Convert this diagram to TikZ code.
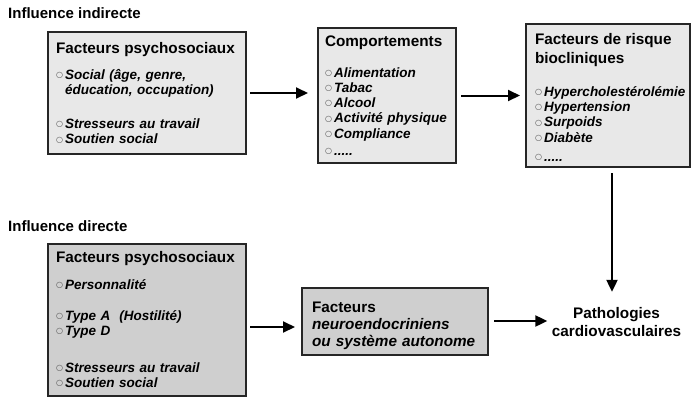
\documentclass[tikz,border=0pt]{standalone}
\usepackage{fontspec}
\setmainfont{Liberation Sans}
\newfontfamily\symfont{DejaVu Sans}
\usetikzlibrary{arrows.meta, positioning}
\definecolor{lightbox}{HTML}{E8E8E8}
\definecolor{darkbox}{HTML}{CFCFCF}
\newcommand{\hd}{\upshape\fontsize{15.3}{17.5}\selectfont}
\newcommand{\itm}{{\symfont\fontsize{8}{8}\selectfont\color{black!70}\raisebox{1.8pt}{○}}\,}
\tikzstyle{grouplabel} = [anchor=base west, inner sep=0pt, font=\fontsize{15}{17}\selectfont\bfseries]
\tikzstyle{factorbox} = [rectangle, draw=black!85, line width=2pt, inner xsep=8pt, inner ysep=0pt, align=left, font=\fontsize{13.5}{15.2}\selectfont\bfseries\itshape]
\tikzstyle{outcome} = [align=center, font=\fontsize{15.3}{18}\selectfont\bfseries]
\tikzstyle{connector} = [line width=2pt, -{Triangle[length=12pt, width=11pt]}]

\begin{document}
\begin{tikzpicture}[x=1pt, y=-1pt]
  \useasboundingbox (0,0) rectangle (691,397);

  % Group titles
  \node (indirect) at (8,18.3) [grouplabel] {Influence indirecte};
  \node (direct) at (8,231) [grouplabel] {Influence directe};

  % Indirect path
  \node (psyA) at (147,93) [factorbox, fill=lightbox, text width=182pt, minimum height=122pt]
    {{\hd Facteurs psychosociaux}\\[11.3pt]
     \itm Social (âge, genre,\\
     \phantom{\itm}éducation, occupation)\\[18.8pt]
     \itm Stresseurs au travail\\
     \itm Soutien social};
  \node (behav) at (387,95.5) [factorbox, fill=lightbox, text width=124pt, inner xsep=7pt, minimum height=135pt]
    {{\hd Comportements}\\[15.8pt]
     \itm Alimentation\\
     \itm Tabac\\
     \itm Alcool\\
     \itm Activité physique\\
     \itm Compliance\\[2pt]
     \itm .....};
  \node (risk) at (608,95.5) [factorbox, fill=lightbox, text width=146pt, inner xsep=9pt, minimum height=143pt]
    {{\hd\rule{0pt}{15pt}Facteurs de risque\\[3pt]biocliniques}\\[18.3pt]
     \itm Hypercholestérolémie\\
     \itm Hypertension\\
     \itm Surpoids\\
     \itm Diabète\\[3.8pt]
     \itm .....};

  % Direct path
  \node (psyB) at (147,319.5) [factorbox, fill=darkbox, text width=182pt, minimum height=152pt]
    {{\hd Facteurs psychosociaux}\\[11.3pt]
     \itm Personnalité\\[15.8pt]
     \itm Type A\ \ (Hostilité)\\
     \itm Type D\\[21.8pt]
     \itm Stresseurs au travail\\
     \itm Soutien social};
  \node (neuro) at (395,321.5) [factorbox, fill=darkbox, text width=166pt, inner xsep=10pt, minimum height=67pt,
    font=\fontsize{15.3}{17}\selectfont\bfseries]
    {\rule{0pt}{20pt}Facteurs\\
     \itshape neuroendocriniens\\
     \itshape ou système autonome};

  % Outcome
  \node (cvd) at (616.5,322) [outcome] {Pathologies\\cardiovasculaires};

  % Arrows
  \draw[connector] (psyA.east) ++(3,0) coordinate (a1) -- ([xshift=-9pt]behav.west |- a1);
  \draw[connector] (behav.east) ++(4,0) coordinate (a2) -- ([xshift=-5pt]risk.west |- a2);
  \draw[connector] ([yshift=-5pt]risk.south -| 612,0) -- ([yshift=12pt]cvd.north -| 612,0);
  \draw[connector] ([xshift=3pt]psyB.east |- 0,327) coordinate (a3) -- ([xshift=-6pt]neuro.west |- a3);
  \draw[connector] ([xshift=5pt]neuro.east |- 0,321) coordinate (a4) -- ([xshift=-1pt]cvd.west |- a4);

\end{tikzpicture}
\end{document}
